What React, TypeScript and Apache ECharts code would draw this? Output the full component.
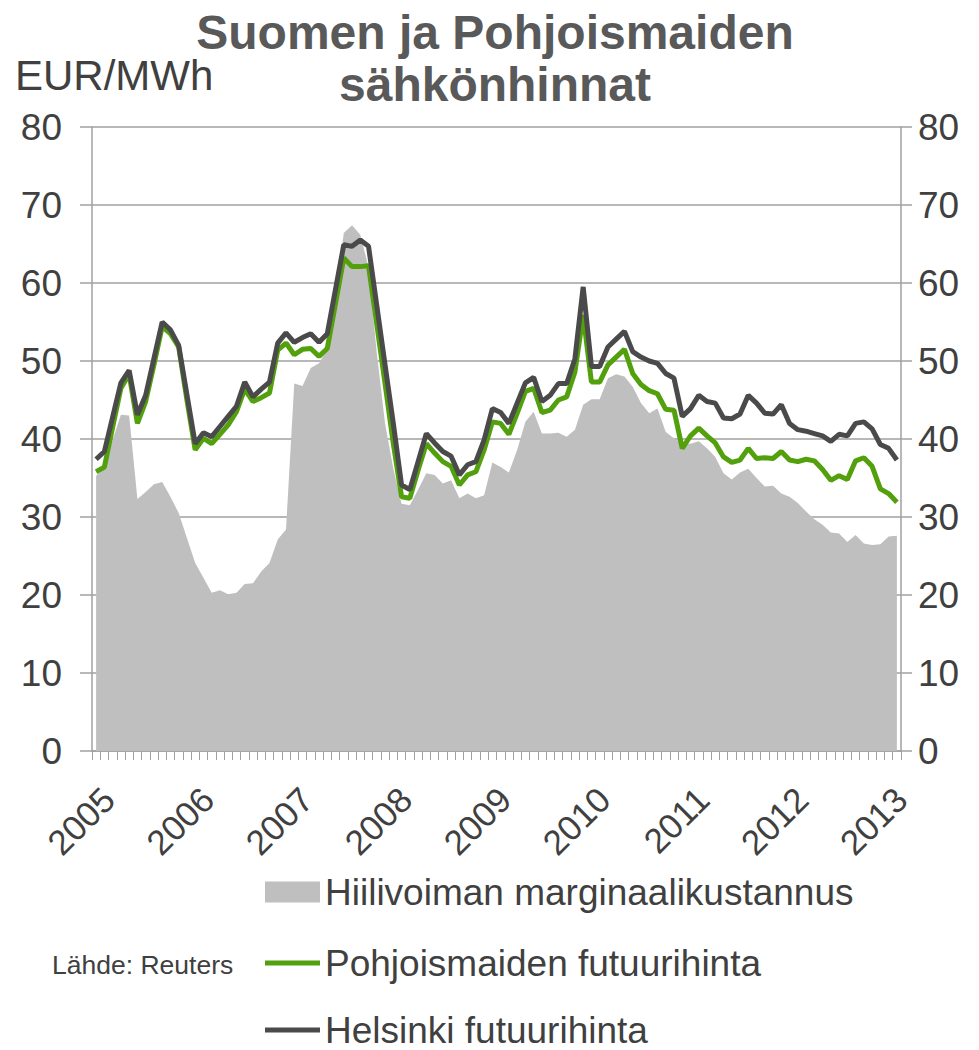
import React, { useEffect, useRef } from 'react';
import * as echarts from 'echarts';

const years = ['2005', '2006', '2007', '2008', '2009', '2010', '2011', '2012', '2013'];
const monthsInLastYear = 2;
const categories: string[] = [];
years.forEach((y, yi) => {
  const n = yi === years.length - 1 ? monthsInLastYear : 12;
  for (let m = 1; m <= n; m++) categories.push(`${y}-${String(m).padStart(2, '0')}`);
});

const seriesNames = [
  'Hiilivoiman marginaalikustannus',
  'Pohjoismaiden futuurihinta',
  'Helsinki futuurihinta',
];

const coalCost = [
  35.3, 36.2, 39.9, 43.1, 43.0, 32.3, 33.2, 34.2, 34.5, 32.6, 30.5, 27.3,
  24.1, 22.2, 20.3, 20.6, 20.1, 20.3, 21.4, 21.5, 23.0, 24.1, 27.1, 28.4,
  47.1, 46.8, 49.1, 49.7, 51.5, 58.5, 66.4, 67.4, 66.2, 62.0, 51.0, 42.0,
  36.2, 31.7, 31.5, 33.5, 35.6, 35.4, 34.3, 34.7, 32.4, 33.0, 32.4, 32.8,
  37.0, 36.4, 35.7, 38.6, 42.2, 43.5, 40.7, 40.7, 40.8, 40.3, 41.2, 44.4,
  45.1, 45.1, 47.8, 48.3, 48.0, 46.7, 44.6, 43.3, 43.9, 40.9, 40.1, 39.5,
  39.4, 39.7, 38.8, 37.7, 35.6, 34.8, 35.7, 36.2, 35.0, 33.9, 34.0, 33.0,
  32.6, 31.8, 30.7, 29.7, 29.0, 28.0, 27.9, 26.8, 27.7, 26.6, 26.4, 26.5,
  27.5, 27.6,
];

const nordicFutures = [
  35.8, 36.4, 41.5, 46.5, 48.3, 42.0, 44.8, 49.5, 54.4, 53.5, 51.8, 45.0,
  38.6, 40.1, 39.4, 40.6, 41.8, 43.5, 46.4, 44.8, 45.3, 45.9, 51.4, 52.3,
  50.8, 51.5, 51.6, 50.6, 51.6, 57.4, 63.2, 62.1, 62.1, 62.2, 54.7, 47.1,
  39.4, 32.6, 32.4, 36.0, 39.4, 38.2, 37.1, 36.5, 34.1, 35.4, 35.8, 38.6,
  42.2, 42.0, 40.6, 43.3, 46.1, 46.5, 43.4, 43.7, 45.0, 45.4, 48.6, 55.9,
  47.3, 47.3, 49.5, 50.5, 51.5, 48.4, 47.0, 46.2, 45.8, 43.8, 43.7, 38.8,
  40.4, 41.4, 40.4, 39.5, 37.7, 37.0, 37.3, 38.8, 37.5, 37.6, 37.5, 38.4,
  37.3, 37.1, 37.4, 37.2, 36.1, 34.7, 35.3, 34.8, 37.2, 37.6, 36.5, 33.6,
  33.0, 31.9,
];

const helsinkiFutures = [
  37.4, 38.4, 42.8, 47.2, 48.8, 43.1, 45.6, 50.3, 55.0, 54.0, 52.0, 45.7,
  39.4, 40.8, 40.3, 41.6, 42.9, 44.2, 47.3, 45.4, 46.4, 47.3, 52.3, 53.6,
  52.4, 53.0, 53.5, 52.4, 53.5, 59.2, 64.9, 64.7, 65.5, 64.7, 57.1, 49.5,
  42.0, 34.1, 33.5, 37.1, 40.7, 39.5, 38.4, 37.8, 35.4, 36.7, 37.1, 39.9,
  43.9, 43.4, 42.0, 44.6, 47.2, 47.9, 44.8, 45.6, 47.1, 47.1, 50.3, 59.5,
  49.3, 49.3, 51.8, 52.8, 53.8, 51.2, 50.5, 50.0, 49.7, 48.4, 47.8, 42.9,
  43.9, 45.6, 44.8, 44.6, 42.7, 42.6, 43.2, 45.6, 44.6, 43.3, 43.2, 44.4,
  42.0, 41.2, 41.0, 40.7, 40.4, 39.7, 40.6, 40.4, 42.0, 42.2, 41.3, 39.3,
  38.8, 37.3,
];

const FONT = '"Liberation Sans", Arial, sans-serif';
const AXIS_GRAY = '#a0a0a0';
const TEXT = '#404040';
const COAL = '#bfbfbf';
const GREEN = '#52a00c';
const DARK = '#4a4a4a';

export default function App() {
  const ref = useRef<HTMLDivElement>(null);

  useEffect(() => {
    if (!ref.current) return;
    const chart = echarts.init(ref.current, null, { renderer: 'svg' });
    const legendText = { fontSize: 37, color: TEXT, fontFamily: FONT, lineHeight: 40 };
    chart.setOption({
      animation: false,
      backgroundColor: '#ffffff',
      title: {
        text: 'Suomen ja Pohjoismaiden\nsähkönhinnat',
        left: 495,
        top: 6,
        padding: 0,
        textAlign: 'center',
        textStyle: {
          fontSize: 48,
          fontWeight: 'bold',
          color: '#595959',
          fontFamily: FONT,
          lineHeight: 52,
        },
      },
      graphic: [
        {
          type: 'text',
          x: 15,
          y: 75,
          style: { text: 'EUR/MWh', fontSize: 42, fill: TEXT, fontFamily: FONT, verticalAlign: 'middle' },
        },
        {
          type: 'text',
          x: 52,
          y: 965,
          style: { text: 'Lähde: Reuters', fontSize: 26.5, fill: TEXT, fontFamily: FONT, verticalAlign: 'middle' },
        },
      ],
      legend: [
        {
          data: [{ name: seriesNames[0], icon: 'rect' }],
          left: 265, top: 872, padding: 0, itemWidth: 55, itemHeight: 21,
          selectedMode: false, textStyle: legendText,
        },
        {
          data: [{ name: seriesNames[1], icon: 'rect' }],
          left: 265, top: 943, padding: 0, itemWidth: 55, itemHeight: 5,
          selectedMode: false, textStyle: legendText,
        },
        {
          data: [{ name: seriesNames[2], icon: 'rect' }],
          left: 265, top: 1010, padding: 0, itemWidth: 55, itemHeight: 5,
          selectedMode: false, textStyle: legendText,
        },
      ],
      grid: { left: 92, right: 78, top: 127, bottom: 299, containLabel: false },
      xAxis: {
        type: 'category',
        data: categories,
        boundaryGap: true,
        axisLine: { show: true, lineStyle: { color: AXIS_GRAY, width: 1.5 } },
        axisTick: { show: true, interval: 0, length: 9, lineStyle: { color: AXIS_GRAY, width: 1 } },
        axisLabel: {
          interval: 11,
          rotate: 45,
          margin: 30,
          verticalAlign: 'top',
          align: 'right',
          fontSize: 35,
          color: TEXT,
          fontFamily: FONT,
          formatter: (v: string) => v.slice(0, 4),
        },
        splitLine: { show: false },
      },
      yAxis: [
        {
          type: 'value',
          min: 0,
          max: 80,
          interval: 10,
          position: 'left',
          axisLine: { show: true, lineStyle: { color: AXIS_GRAY, width: 1.5 } },
          axisTick: { show: true, length: 12, lineStyle: { color: AXIS_GRAY, width: 1.5 } },
          splitLine: { show: true, lineStyle: { color: AXIS_GRAY, width: 1.5 } },
          axisLabel: { fontSize: 37, color: TEXT, fontFamily: FONT, margin: 30 },
        },
        {
          type: 'value',
          min: 0,
          max: 80,
          interval: 10,
          position: 'right',
          axisLine: { show: true, lineStyle: { color: AXIS_GRAY, width: 1.5 } },
          axisTick: { show: true, length: 11, lineStyle: { color: AXIS_GRAY, width: 1.5 } },
          splitLine: { show: false },
          axisLabel: { fontSize: 37, color: TEXT, fontFamily: FONT, margin: 17 },
        },
      ],
      series: [
        {
          name: seriesNames[0],
          type: 'line',
          data: coalCost,
          color: COAL,
          symbol: 'none',
          lineStyle: { width: 0, color: COAL },
          areaStyle: { color: COAL, opacity: 1 },
          z: 1,
        },
        {
          name: seriesNames[1],
          type: 'line',
          data: nordicFutures,
          color: GREEN,
          symbol: 'none',
          lineStyle: { width: 5, color: GREEN },
          z: 2,
        },
        {
          name: seriesNames[2],
          type: 'line',
          data: helsinkiFutures,
          color: DARK,
          symbol: 'none',
          lineStyle: { width: 5, color: DARK },
          z: 3,
        },
      ],
    });
    return () => chart.dispose();
  }, []);

  return (
    <div
      ref={ref}
      style={{ position: 'fixed', left: 0, top: 0, width: 979, height: 1050, background: '#fff' }}
    />
  );
}
